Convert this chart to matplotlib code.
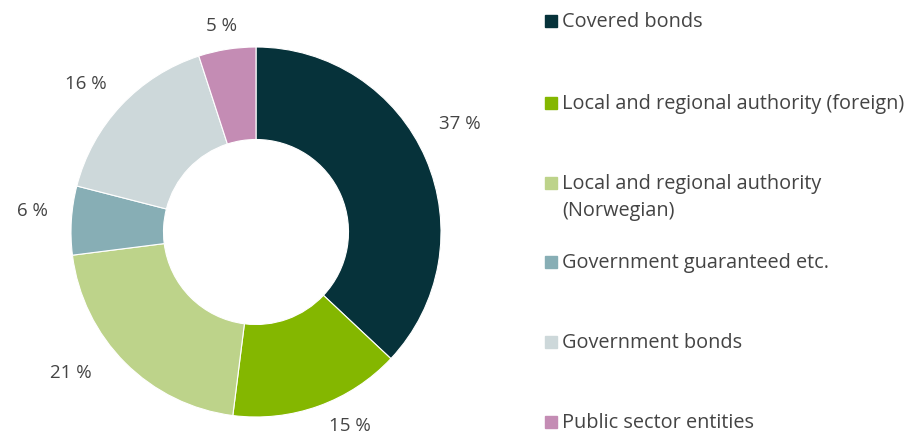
import numpy as np
import matplotlib.pyplot as plt

plt.rcParams['font.family'] = ['Open Sans', 'DejaVu Sans']

categories = ['Covered bonds',
              'Local and regional authority (foreign)',
              'Local and regional authority\n(Norwegian)',
              'Government guaranteed etc.',
              'Government bonds',
              'Public sector entities']
values = [37, 15, 21, 6, 16, 5]
colors = ['#06323a', '#84b700', '#bdd38a', '#87aeb5', '#cdd8da', '#c48cb4']

W, H = 905, 432
fig = plt.figure(figsize=(W / 100, H / 100), dpi=100)

# donut centre (256, 232) px, outer radius 185 px
cx, cy, R = 256, 232, 185
ax = fig.add_axes([(cx - R) / W, (H - cy - R) / H, 2 * R / W, 2 * R / H])
wedges, _ = ax.pie(values, colors=colors, startangle=90, counterclock=False,
                   radius=1.0, wedgeprops=dict(width=0.5, edgecolor='white', linewidth=0.8))
ax.set_xlim(-1, 1)
ax.set_ylim(-1, 1)
ax.set_axis_off()

text_col = '#444444'
# small nudges (px) to sit labels where the original has them
nudges = [(0, 20), (19, 15), (-28, 16), (-2, 7), (-8, -4), (0, -13)]
for w, v, (dx, dy) in zip(wedges, values, nudges):
    ang = np.deg2rad((w.theta1 + w.theta2) / 2)
    r = 1.2
    x, y = r * np.cos(ang), r * np.sin(ang)
    ax.annotate(f'{v} %', (x, y), xytext=(dx * 0.72, dy * 0.72), textcoords='offset points',
                ha='center', va='center', fontsize=13.5, color=text_col,
                annotation_clip=False)

# legend
baselines = [27, 109, 189, 268, 348, 428]
for lab, col, py in zip(categories, colors, baselines):
    fig.patches.append(plt.Rectangle((545 / W, 1 - py / H), 12 / W, 12 / H,
                                     transform=fig.transFigure, color=col))
    for i, line in enumerate(lab.split('\n')):
        fig.text(562 / W, 1 - (py + 27 * i) / H, line, ha='left', va='baseline',
                 fontsize=14.3, color=text_col)

fig.savefig('out.png', dpi=100)
